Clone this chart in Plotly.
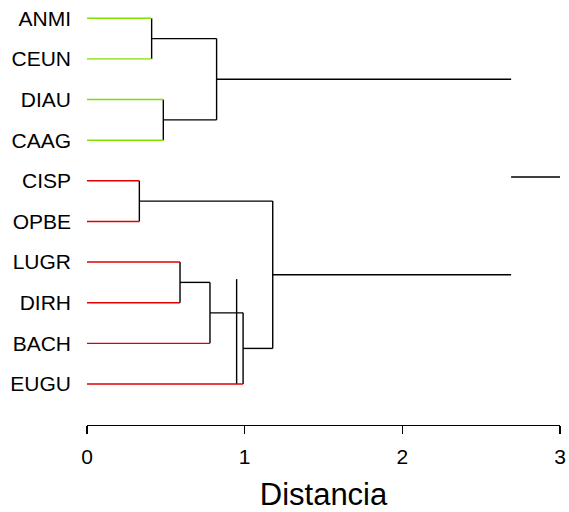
import plotly.graph_objects as go

# ---------------- data ----------------
leaves = ["ANMI", "CEUN", "DIAU", "CAAG", "CISP", "OPBE", "LUGR", "DIRH", "BACH", "EUGU"]
leaf_groups = ["g", "g", "g", "g", "r", "r", "r", "r", "r", "r"]
group_colors = {"g": "#7FE000", "r": "#E00000"}

merge_names = ["m1", "m2", "m3", "m4", "m5", "m6", "m7", "m8"]
merge_left = ["ANMI", "DIAU", "m1", "CISP", "LUGR", "m5", "m6", "m4"]
merge_right = ["CEUN", "CAAG", "m2", "OPBE", "DIRH", "BACH", "EUGU", "m7"]
merge_height = [0.41, 0.484, 0.822, 0.332, 0.59, 0.78, 0.99, 1.178]

root_children = ["m3", "m8"]
root_height = 2.69
root_stem_end = 3.0

extra_line_x = 0.949
extra_line_y = [7.42, 10]

x_ticks = [0, 1, 2, 3]

# ---------------- build segments ----------------
pos = {}
for i, name in enumerate(leaves):
    pos[name] = (0.0, i + 1)

seg = {"g": ([], []), "r": ([], []), "k": ([], [])}


def add(key, xs, ys):
    seg[key][0].extend(list(xs) + [None])
    seg[key][1].extend(list(ys) + [None])


def child_key(name):
    if name in leaves:
        return leaf_groups[leaves.index(name)]
    return "k"


for name, a, b, h in zip(merge_names, merge_left, merge_right, merge_height):
    for c in (a, b):
        cx, cy = pos[c]
        add(child_key(c), [cx, h], [cy, cy])
    add("k", [h, h], [pos[a][1], pos[b][1]])
    pos[name] = (h, (pos[a][1] + pos[b][1]) / 2)

for c in root_children:
    cx, cy = pos[c]
    add("k", [cx, root_height], [cy, cy])
root_y = sum(pos[c][1] for c in root_children) / len(root_children)
add("k", [root_height, root_stem_end], [root_y, root_y])
add("k", [extra_line_x, extra_line_x], extra_line_y)

fig = go.Figure()
colors = {"g": group_colors["g"], "r": group_colors["r"], "k": "#000000"}
for key in ["k", "g", "r"]:
    fig.add_trace(go.Scatter(x=seg[key][0], y=seg[key][1], mode="lines",
                             line=dict(color=colors[key], width=1.4),
                             cliponaxis=False, hoverinfo="skip", showlegend=False))

font = "Liberation Sans, Arial, sans-serif"
fig.update_layout(
    width=569, height=512,
    margin=dict(l=87, r=9, t=0, b=87),
    paper_bgcolor="white", plot_bgcolor="white",
    font=dict(family=font, color="black"),
    xaxis=dict(range=[0, 3], tickvals=x_ticks, ticks="outside", ticklen=8,
               tickcolor="black", tickwidth=1.2, showline=True, linecolor="black",
               linewidth=1.2, showgrid=False, zeroline=False, automargin=False,
               ticklabeloverflow="allow", ticklabelstandoff=5,
               tickfont=dict(size=21, family=font, color="black"),
               title=dict(text="Distancia", font=dict(size=31, family=font, color="black"),
                          standoff=34)),
    yaxis=dict(range=[11.01, 0.55], tickvals=list(range(1, len(leaves) + 1)),
               ticktext=leaves, showgrid=False, zeroline=False, showline=False,
               ticks="", ticklabelstandoff=15, automargin=False,
               ticklabeloverflow="allow",
               tickfont=dict(size=21, family=font, color="black")),
)

fig.write_html("out.html", config={"displayModeBar": False, "staticPlot": True},
               post_script="document.body.style.margin='0';document.body.style.overflow='hidden';")
